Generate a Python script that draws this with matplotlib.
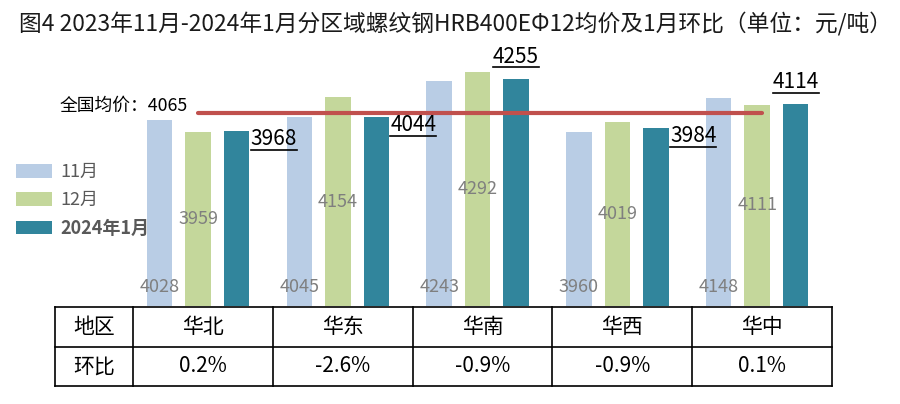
import matplotlib
matplotlib.use("Agg")
import matplotlib.pyplot as plt
from matplotlib.lines import Line2D
import numpy as np

plt.rcParams['font.family'] = ['Noto Sans CJK SC', 'DejaVu Sans']

# data
regions = ['华北', '华东', '华南', '华西', '华中']
series_names = ['11月', '12月', '2024年1月']
nov = [4028, 4045, 4243, 3960, 4148]
dec = [3959, 4154, 4292, 4019, 4111]
jan = [3968, 4044, 4255, 3984, 4114]
mom = ['0.2%', '-2.6%', '-0.9%', '-0.9%', '0.1%']
national_avg = 4065
title = '图4 2023年11月-2024年1月分区域螺纹钢HRB400EΦ12均价及1月环比（单位：元/吨）'

# style
colors = ['#B9CDE5', '#C4D79B', '#31859C']
jan_label_pos = ['right', 'right', 'top', 'right', 'top']
gray = '#7F7F7F'

W, H = 900, 404
fig = plt.figure(figsize=(W / 100, H / 100), dpi=100)

def fx(px):
    return px / W

def fy(py):
    return 1 - py / H

# main axes: x from 133 to 832 px, y from 50 to 306 px
ax = fig.add_axes([fx(133), fy(306), fx(832 - 133), (306 - 50) / H])
ax.set_xlim(-0.5, 4.5)
ax.set_ylim(3000, 4415)
ax.axis('off')

x = np.arange(len(regions))
offsets = [-0.31, -0.035, 0.24]
bw = 0.182
bars = []
for vals, off, c, name in zip([nov, dec, jan], offsets, colors, series_names):
    b = ax.bar(x + off, np.array(vals) - 3000, bw, bottom=3000, color=c, label=name)
    bars.append(b)

# labels for 11月 (bottom inside) and 12月 (middle)
for i in range(len(regions)):
    ax.annotate(str(nov[i]), (x[i] + offsets[0], 3000), xytext=(0, 14), textcoords='offset points',
                ha='center', va='center', fontsize=13, color=gray)
    ax.text(x[i] + offsets[1], (3000 + dec[i]) / 2, str(dec[i]), ha='center', va='center',
            fontsize=13, color=gray)

# 1月 labels, underlined
jan_texts = []
for i in range(len(regions)):
    if jan_label_pos[i] == 'right':
        t = ax.annotate(str(jan[i]), (x[i] + offsets[2] + bw / 2, jan[i]), xytext=(1, 2),
                        textcoords='offset points', ha='left', va='top', fontsize=15, color='black')
    else:
        t = ax.annotate(str(jan[i]), (x[i] + offsets[2], jan[i]), xytext=(0, 8),
                        textcoords='offset points', ha='center', va='bottom', fontsize=15, color='black')
    jan_texts.append(t)

# national average line
ax.plot([-0.035, 4.0], [national_avg, national_avg], color='#C0504D', lw=3, solid_capstyle='round',
        clip_on=False)
fig.text(fx(60), fy(106), '全国均价：' + str(national_avg), fontsize=12.8, ha='left', va='center',
         color='black')

# title
fig.text(fx(19), fy(24), title, fontsize=16.4, ha='left', va='center', color='#1a1a1a')

# legend
leg = fig.legend(handles=bars, labels=series_names, loc='upper left',
                 bbox_to_anchor=(fx(16), fy(163)), frameon=False, fontsize=13,
                 handlelength=2.0, handleheight=0.8, handletextpad=0.45, labelspacing=0.55,
                 borderpad=0, borderaxespad=0, labelcolor='#595959')
leg.get_texts()[2].set_fontweight('bold')

# table below, sharing x with groups
tab = fig.add_axes([fx(55), fy(386), fx(832 - 55), (386 - 307) / H])
x_left = -0.5 - 78 / 139.8
tab.set_xlim(x_left, 4.5)
tab.set_ylim(2, 0)
tab.axis('off')
bounds = [x_left] + list(np.arange(len(regions) + 1) - 0.5)
for bx in bounds:
    tab.plot([bx, bx], [0, 2], color='black', lw=1.2, clip_on=False)
for ry in [0, 1, 2]:
    tab.plot([bounds[0], bounds[-1]], [ry, ry], color='black', lw=1.2, clip_on=False)
tab.text((x_left - 0.5) / 2, 0.5, '地区', ha='center', va='center', fontsize=15)
tab.text((x_left - 0.5) / 2, 1.5, '环比', ha='center', va='center', fontsize=15)
for i in range(len(regions)):
    tab.text(x[i], 0.5, regions[i], ha='center', va='center', fontsize=15)
    tab.text(x[i], 1.5, mom[i], ha='center', va='center', fontsize=15)

# underline the 1月 labels
fig.canvas.draw()
r = fig.canvas.get_renderer()
for t in jan_texts:
    bb = t.get_window_extent(r)
    y0 = bb.y0 + 0.5
    fig.add_artist(Line2D([bb.x0 / W, bb.x1 / W], [y0 / H, y0 / H], color='black', lw=1.2,
                          transform=fig.transFigure))

fig.savefig('out.png', dpi=100)
